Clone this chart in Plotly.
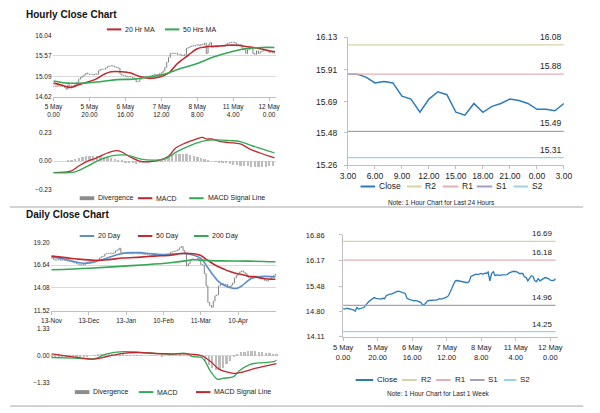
import plotly.graph_objects as go

# ---------------- DATA ----------------
# hourly close, 5 May 0:00 .. 12 May 3:00 (trading hours)
hourly_close = [
    14.87, 14.86, 14.88, 14.87, 14.86, 14.87, 14.84, 14.80,
    14.90, 14.86, 14.88, 14.88, 14.90,
    14.96, 15.03, 15.07, 15.10, 15.13,
    15.17, 15.15, 15.14,
    15.14, 15.13, 15.15, 15.14, 15.22,
    15.25, 15.26, 15.26,
    15.29, 15.32, 15.33, 15.34, 15.33, 15.31, 15.30,
    15.28, 15.15, 15.12,
    15.11, 15.10, 15.08, 15.09, 15.08, 15.06, 15.04,
    14.97, 14.98, 15.03,
    15.08, 15.09, 15.10, 15.09, 15.10, 15.10, 15.12, 15.14, 15.13,
    15.14, 15.16, 15.18, 15.22, 15.30,
    15.42, 15.53, 15.62,
    15.63, 15.62, 15.63, 15.60, 15.60, 15.58, 15.57,
    15.60, 15.74, 15.76, 15.78,
    15.80, 15.79, 15.81, 15.82, 15.80, 15.83, 15.82, 15.86,
    15.62, 15.82, 15.87,
    15.76, 15.78, 15.77, 15.77, 15.78, 15.78, 15.78, 15.79, 15.83, 15.86, 15.87,
    15.88, 15.88, 15.86, 15.82, 15.83, 15.82, 15.73, 15.71, 15.62, 15.71,
    15.76, 15.74, 15.62, 15.60, 15.68, 15.62, 15.66, 15.68, 15.71, 15.70,
    15.68, 15.64, 15.64, 15.63, 15.68,
]
hour_ticks = [0, 20, 40, 60, 80, 100, 120]
hour_ticktext = ["5 May<br>0.00", "5 May<br>20.00", "6 May<br>16.00", "7 May<br>12.00",
                 "8 May<br>8.00", "11 May<br>4.00", "12 May<br>0.00"]

ma20h_x = [0, 5, 9, 12, 17, 23, 28, 32, 38, 43, 48, 53, 59, 64, 69, 75, 80, 86, 91, 97, 102, 107, 113, 118, 123]
ma20h = [14.94, 14.89, 14.84, 14.87, 14.94, 15.02, 15.14, 15.20, 15.20, 15.17, 15.09, 15.05, 15.08,
         15.17, 15.39, 15.58, 15.73, 15.78, 15.79, 15.81, 15.81, 15.78, 15.75, 15.70, 15.66]
ma50h_x = [0, 8, 17, 26, 35, 44, 53, 62, 71, 80, 89, 98, 107, 116, 123]
ma50h = [14.99, 14.94, 14.94, 14.97, 15.02, 15.03, 15.08, 15.15, 15.28, 15.39, 15.54, 15.65, 15.73, 15.76, 15.76]
h_price_ticks = [14.62, 15.09, 15.57, 16.04]

macdh_x = [0, 10, 14, 19, 24, 30, 35, 38, 42, 48, 53, 59, 64, 68, 73, 79, 83, 85, 88, 93, 98, 104, 109, 115, 120, 123]
macdh = [-0.093, -0.079, -0.04, 0.0, 0.026, 0.066, 0.085, 0.074, 0.04, 0.0, -0.005, 0.008, 0.04, 0.106,
         0.145, 0.177, 0.193, 0.18, 0.18, 0.159, 0.151, 0.14, 0.10, 0.066, 0.04, 0.026]
sigh_x = [0, 12, 19, 26, 33, 41, 48, 55, 62, 69, 77, 84, 91, 98, 104, 109, 116, 123]
sigh = [-0.093, -0.087, -0.04, 0.013, 0.045, 0.048, 0.019, 0.008, 0.019, 0.079, 0.132, 0.164, 0.172,
        0.167, 0.159, 0.132, 0.10, 0.066]
divh_x = list(range(0, 124, 2))
divh = [0.0, 0.0, 0.0, 0.0, 0.005, 0.01, 0.02, 0.03, 0.035, 0.04, 0.042, 0.042, 0.04, 0.04, 0.038, 0.035,
        0.03, 0.022, 0.012, 0.004, -0.006, -0.012, -0.016, -0.018, -0.016, -0.012, -0.008, -0.004, 0.0,
        0.004, 0.01, 0.02, 0.035, 0.048, 0.056, 0.06, 0.06, 0.058, 0.052, 0.045, 0.035, 0.025, 0.015,
        0.006, 0.0, -0.003, -0.006, -0.01, -0.014, -0.02, -0.026, -0.03, -0.035, -0.04, -0.042, -0.044,
        -0.045, -0.045, -0.044, -0.043, -0.042, -0.04]
h_macd_ticks = [-0.23, 0.0, 0.23]

# last 24 hours
h24_ticktext = ["3.00", "6.00", "9.00", "12.00", "15.00", "18.00", "21.00", "0.00", "3.00"]
h24_levels = {"R2": 16.08, "R1": 15.88, "S1": 15.49, "S2": 15.31}
h24_ticks_y = [15.26, 15.48, 15.69, 15.91, 16.13]

# last week levels
w_levels = {"R2": 16.69, "R1": 16.18, "S1": 14.96, "S2": 14.25}
w_ticks_y = [14.11, 14.80, 15.48, 16.17, 16.86]

# daily close 13-Nov .. 12-May
daily_close = [
    17.45, 17.30, 17.20, 17.25, 17.30, 17.20,
    17.25, 17.20, 17.15, 17.10, 17.05,
    17.00, 16.95, 16.90, 16.80, 16.75, 16.70, 16.65,
    16.70, 16.90, 17.00, 17.05, 17.05, 17.10, 17.05, 17.15, 17.20,
    17.45, 17.60, 17.65,
    17.90, 17.95, 17.95, 18.00, 17.95, 18.05,
    18.25, 18.35, 18.55,
    18.05, 18.00, 18.05, 18.00, 17.95,
    17.95, 17.90, 17.95, 18.00, 17.95, 17.90, 17.95, 17.90, 17.85, 17.90,
    17.80, 17.75, 17.70, 17.75, 17.80, 17.75, 17.80,
    17.80, 17.75, 17.80, 17.85, 17.80, 17.90,
    18.10, 18.15, 18.20, 18.25, 18.40, 18.60, 18.75, 18.30,
    17.90, 16.55, 16.80,
    17.20, 17.35, 17.30, 17.25, 17.40, 17.10, 16.70,
    16.65, 15.70, 14.30,
    12.45, 12.10, 11.90, 12.60,
    13.20, 13.30, 14.30, 14.50,
    14.55, 14.40, 14.50, 14.30, 14.10,
    14.40, 14.65, 15.20, 15.50, 15.75,
    15.90, 16.00, 15.85, 15.70, 15.40,
    15.20, 15.30, 15.35, 15.25, 15.40,
    15.30, 15.20, 15.25, 15.10, 14.90,
    14.85, 15.00, 15.10, 15.35, 15.50, 15.65,
]
day_ticks = [0, 21, 42, 63, 84, 105]
day_ticktext = ["13-Nov", "13-Dec", "13-Jan", "10-Feb", "11-Mar", "10-Apr"]
ma20d_x = [0, 5, 10, 15, 20, 25, 30, 35, 40, 45, 50, 55, 60, 65, 70, 75, 80, 84, 88, 91, 94, 98, 101,
           104, 107, 110, 113, 117, 121, 126]
ma20d = [17.60, 17.40, 17.20, 16.95, 16.85, 17.05, 17.35, 17.70, 17.95, 18.05, 18.05, 17.95, 17.85,
         17.85, 17.90, 17.95, 17.75, 17.40, 16.35, 15.50, 14.80, 14.30, 14.10, 14.02, 14.30, 14.80,
         15.20, 15.35, 15.38, 15.33]
ma50d_x = [0, 13, 24, 32, 40, 50, 58, 67, 73, 80, 84, 87, 92, 97, 100, 104, 107, 111, 114, 119, 126]
ma50d = [17.66, 17.37, 17.19, 17.26, 17.44, 17.55, 17.66, 17.76, 17.95, 17.92, 17.74, 17.30, 16.66,
         16.20, 15.95, 15.70, 15.60, 15.40, 15.35, 15.15, 15.05]
ma200d_x = [0, 21, 43, 64, 72, 80, 85, 95, 110, 126]
ma200d = [16.12, 16.30, 16.56, 16.85, 17.04, 17.25, 17.20, 17.12, 17.10, 17.02]
d_price_ticks = [11.52, 14.08, 16.64, 19.20]

macdd_x = [0, 13, 24, 31, 40, 49, 58, 67, 75, 79, 84, 86, 89, 93, 96, 102, 105, 111, 116, 121, 125, 126]
macdd = [-0.10, -0.13, -0.16, 0.08, 0.19, 0.16, 0.11, 0.06, 0.11, -0.05, -0.10, -0.29, -0.77, -1.18,
         -1.13, -1.05, -0.77, -0.45, -0.37, -0.34, -0.29, -0.23]
sigd_x = [0, 13, 24, 31, 40, 49, 58, 67, 76, 84, 89, 94, 100, 103, 107, 114, 121, 126]
sigd = [0.08, -0.08, -0.18, -0.05, 0.11, 0.15, 0.10, 0.08, 0.08, 0.0, -0.29, -0.69, -0.85, -0.89,
        -0.82, -0.64, -0.50, -0.40]
divd_x = list(range(0, 127, 2))
divd = [-0.08, -0.08, -0.07, -0.06, -0.05, -0.05, -0.04, -0.04, -0.03, -0.02, -0.01, 0.0, 0.02, 0.05,
        0.08, 0.10, 0.10, 0.09, 0.08, 0.06, 0.05, 0.04, 0.03, 0.02, 0.01, 0.01, 0.0, 0.0, 0.01, 0.01,
        0.0, -0.01, 0.0, 0.02, 0.03, 0.04, 0.05, 0.04, 0.02, -0.03, -0.06, -0.08, -0.10, -0.25, -0.45,
        -0.62, -0.72, -0.70, -0.58, -0.42, -0.25, -0.05, 0.10, 0.17, 0.21, 0.23, 0.24, 0.23, 0.21,
        0.18, 0.15, 0.12, 0.10, 0.08]
d_macd_ticks = [-1.33, 0.0, 1.33]

# ---------------- STYLE ----------------
FONT = "Liberation Sans"
RED = "#C0282D"
GREEN = "#35A853"
BLUE_MA = "#5B8DC9"
CLOSE_BLUE = "#2B7BBA"
BAR_GREY = "#7F7F7F"
DIV_GREY = "#BDBDBD"
DIV_KEY = "#8C8C8C"
LEVEL_COLORS = {"R2": "#D6D3A3", "R1": "#E3AEB5", "S1": "#A99CC4", "S2": "#9DD3E0"}
GRID = "#D9D9D9"
AXIS = "#BFBFBF"
TXT = "#222222"


def ohlc_from_close(close):
    opens = [close[0]] + close[:-1]
    highs = [max(o, c) for o, c in zip(opens, close)]
    lows = [min(o, c) for o, c in zip(opens, close)]
    return opens, highs, lows


def px_x(a, b):
    return [a / 600, b / 600]


def px_y(top, bottom):
    return [1 - bottom / 413, 1 - top / 413]


fig = go.Figure()

# ---- hourly price (x, y) ----
ho, hh, hl = ohlc_from_close(hourly_close)
hx = list(range(len(hourly_close)))
fig.add_trace(go.Ohlc(x=hx, open=ho, high=hh, low=hl, close=hourly_close,
                      increasing_line_color=BAR_GREY, decreasing_line_color=BAR_GREY,
                      line_width=1, tickwidth=0.3, hoverinfo="skip", xaxis="x", yaxis="y"))
fig.add_trace(go.Scatter(x=ma20h_x, y=ma20h, mode="lines", line=dict(color=RED, width=1.6, shape="spline"),
                         name="20 Hr MA", xaxis="x", yaxis="y"))
fig.add_trace(go.Scatter(x=ma50h_x, y=ma50h, mode="lines", line=dict(color=GREEN, width=1.6, shape="spline"),
                         name="50 Hrs MA", xaxis="x", yaxis="y"))

# ---- hourly MACD (x2, y2) ----
fig.add_trace(go.Bar(x=divh_x, y=divh, width=1.0, marker=dict(color=DIV_GREY, line_width=0),
                     name="Divergence", xaxis="x2", yaxis="y2"))
fig.add_trace(go.Scatter(x=macdh_x, y=macdh, mode="lines", line=dict(color=RED, width=1.3, shape="spline"),
                         name="MACD", xaxis="x2", yaxis="y2"))
fig.add_trace(go.Scatter(x=sigh_x, y=sigh, mode="lines", line=dict(color=GREEN, width=1.3, shape="spline"),
                         name="MACD Signal Line", xaxis="x2", yaxis="y2"))

# ---- last 24 hours (x3, y3) ----
last24 = hourly_close[-25:]
x24 = list(range(len(last24)))
fig.add_trace(go.Scatter(x=x24, y=last24, mode="lines", line=dict(color=CLOSE_BLUE, width=1.5),
                         name="Close", xaxis="x3", yaxis="y3"))
for k, v in h24_levels.items():
    fig.add_trace(go.Scatter(x=x24, y=[v] * len(x24), mode="lines",
                             line=dict(color=LEVEL_COLORS[k], width=1.3),
                             name=k, xaxis="x3", yaxis="y3"))
    fig.add_annotation(x=x24[-1], y=v, xref="x3", yref="y3", text=f"{v:.2f}", showarrow=False,
                       xanchor="right", yanchor="bottom", yshift=1,
                       font=dict(family=FONT, size=8.5, color=TXT))

# ---- daily price (x4, y4) ----
do, dh, dl = ohlc_from_close(daily_close)
dx = list(range(len(daily_close)))
fig.add_trace(go.Ohlc(x=dx, open=do, high=dh, low=dl, close=daily_close,
                      increasing_line_color=BAR_GREY, decreasing_line_color=BAR_GREY,
                      line_width=1, tickwidth=0.3, hoverinfo="skip", xaxis="x4", yaxis="y4"))
fig.add_trace(go.Scatter(x=ma20d_x, y=ma20d, mode="lines", line=dict(color=BLUE_MA, width=1.6, shape="spline"),
                         name="20 Day", xaxis="x4", yaxis="y4"))
fig.add_trace(go.Scatter(x=ma50d_x, y=ma50d, mode="lines", line=dict(color=RED, width=1.6, shape="spline"),
                         name="50 Day", xaxis="x4", yaxis="y4"))
fig.add_trace(go.Scatter(x=ma200d_x, y=ma200d, mode="lines", line=dict(color=GREEN, width=1.6, shape="spline"),
                         name="200 Day", xaxis="x4", yaxis="y4"))

# ---- daily MACD (x5, y5) ----
fig.add_trace(go.Bar(x=divd_x, y=divd, width=1.0, marker=dict(color=DIV_GREY, line_width=0),
                     name="Divergence", xaxis="x5", yaxis="y5"))
fig.add_trace(go.Scatter(x=macdd_x, y=macdd, mode="lines", line=dict(color=GREEN, width=1.3, shape="spline"),
                         name="MACD", xaxis="x5", yaxis="y5"))
fig.add_trace(go.Scatter(x=sigd_x, y=sigd, mode="lines", line=dict(color=RED, width=1.3, shape="spline"),
                         name="MACD Signal Line", xaxis="x5", yaxis="y5"))

# ---- last week (x6, y6) ----
fig.add_trace(go.Scatter(x=hx, y=hourly_close, mode="lines", line=dict(color=CLOSE_BLUE, width=1.3),
                         name="Close", xaxis="x6", yaxis="y6"))
for k, v in w_levels.items():
    fig.add_trace(go.Scatter(x=hx, y=[v] * len(hx), mode="lines",
                             line=dict(color=LEVEL_COLORS[k], width=1.3),
                             name=k, xaxis="x6", yaxis="y6"))
    fig.add_annotation(x=hx[-1], y=v, xref="x6", yref="y6", text=f"{v:.2f}", showarrow=False,
                       xanchor="right", yanchor="bottom", yshift=1,
                       font=dict(family=FONT, size=8, color=TXT))

# ---------------- LAYOUT ----------------
small = dict(family=FONT, size=6.5, color=TXT)
rt_font = dict(family=FONT, size=8.5, color=TXT)
rb_font = dict(family=FONT, size=7.5, color=TXT)


def left_y(dom, ticks, anchor):
    return dict(domain=dom, anchor=anchor, range=[ticks[0], ticks[-1]], tickvals=ticks,
                tickformat=".2f", showgrid=True, gridcolor=GRID, gridwidth=1, zeroline=False,
                showline=False, ticks="", tickfont=small, fixedrange=True)


def right_y(dom, ticks, anchor, font, standoff):
    return dict(domain=dom, anchor=anchor, range=[ticks[0], ticks[-1]], tickvals=ticks,
                tickformat=".2f", showgrid=False, zeroline=False, showline=True, linecolor=AXIS,
                linewidth=1, ticks="outside", ticklen=3, tickcolor=AXIS, tickfont=font,
                ticklabelstandoff=standoff, fixedrange=True)


fig.update_layout(
    width=600, height=413, autosize=False,
    margin=dict(l=0, r=0, t=0, b=0),
    paper_bgcolor="white", plot_bgcolor="white",
    font=dict(family=FONT, color=TXT),
    showlegend=False, bargap=0, hovermode=False,
    xaxis=dict(domain=px_x(44, 275), anchor="y", range=[-0.5, 124], tickvals=hour_ticks,
               ticktext=hour_ticktext, showgrid=False, zeroline=False, showline=True,
               linecolor=AXIS, ticks="outside", ticklen=3, tickcolor=AXIS, tickfont=small,
               rangeslider=dict(visible=False), fixedrange=True),
    yaxis=left_y(px_y(31, 94.3), h_price_ticks, "x"),
    xaxis2=dict(domain=px_x(44, 275), anchor="y2", range=[-0.5, 124], showticklabels=False,
                showgrid=False, zeroline=False, showline=False, ticks="", fixedrange=True),
    yaxis2=left_y(px_y(131, 189), h_macd_ticks, "x2"),
    xaxis3=dict(domain=px_x(349, 572), anchor="y3", range=[0, 24], tickvals=list(range(0, 25, 3)),
                ticktext=h24_ticktext, showgrid=False, zeroline=False, showline=True,
                linecolor=AXIS, ticks="outside", ticklen=3, tickcolor=AXIS, tickfont=rt_font,
                fixedrange=True),
    yaxis3=right_y(px_y(33.3, 164), h24_ticks_y, "x3", rt_font, 5),
    xaxis4=dict(domain=px_x(42, 275), anchor="y4", range=[-0.5, 126.5], tickvals=day_ticks,
                ticktext=day_ticktext, showgrid=False, zeroline=False, showline=True,
                linecolor=AXIS, ticks="outside", ticklen=3, tickcolor=AXIS, tickfont=small,
                rangeslider=dict(visible=False), fixedrange=True),
    yaxis4=left_y(px_y(243.3, 313.3), d_price_ticks, "x4"),
    xaxis5=dict(domain=px_x(42, 277), anchor="y5", range=[-0.5, 127], showticklabels=False,
                showgrid=False, zeroline=False, showline=False, ticks="", fixedrange=True),
    yaxis5=left_y(px_y(331.7, 386.7), d_macd_ticks, "x5"),
    xaxis6=dict(domain=px_x(344, 566), anchor="y6", range=[0, 124.5], tickvals=hour_ticks,
                ticktext=hour_ticktext, showgrid=False, zeroline=False, showline=True,
                linecolor=AXIS, ticks="outside", ticklen=3, tickcolor=AXIS, tickfont=rb_font,
                fixedrange=True),
    yaxis6=right_y(px_y(235.7, 340), w_ticks_y, "x6", rb_font, 13),
)

# ---- legend keys (drawn as paper-space keys + labels) ----
legend_rows = [
    # (row y px, font size, [(kind, colour, key x0, key x1, label)])
    (25, 7, [("line", RED, 100, 115, "20 Hr MA"), ("line", GREEN, 160, 175, "50 Hrs MA")]),
    (198, 7, [("bar", DIV_KEY, 72, 87, "Divergence"), ("line", RED, 132, 147, "MACD"),
              ("line", GREEN, 185, 200, "MACD Signal Line")]),
    (186, 8.5, [("line", CLOSE_BLUE, 362, 377, "Close"), ("line", LEVEL_COLORS["R2"], 410, 425, "R2"),
                ("line", LEVEL_COLORS["R1"], 447, 463, "R1"), ("line", LEVEL_COLORS["S1"], 482, 498, "S1"),
                ("line", LEVEL_COLORS["S2"], 520, 535, "S2")]),
    (236.7, 7, [("line", BLUE_MA, 72, 87, "20 Day"), ("line", RED, 132, 147, "50 Day"),
                ("line", GREEN, 190, 205, "200 Day")]),
    (396.7, 7, [("bar", DIV_KEY, 67, 82, "Divergence"), ("line", GREEN, 133, 148, "MACD"),
                ("line", RED, 192, 207, "MACD Signal Line")]),
    (384.3, 8, [("line", CLOSE_BLUE, 357, 375, "Close"), ("line", LEVEL_COLORS["R2"], 405, 420, "R2"),
                ("line", LEVEL_COLORS["R1"], 440, 455, "R1"), ("line", LEVEL_COLORS["S1"], 475, 490, "S1"),
                ("line", LEVEL_COLORS["S2"], 510, 523, "S2")]),
]
for ypx, fsize, items in legend_rows:
    yp = 1 - ypx / 413
    for kind, col, a, b, label in items:
        if kind == "line":
            fig.add_shape(type="line", xref="paper", yref="paper", x0=a / 600, x1=b / 600, y0=yp, y1=yp,
                          line=dict(color=col, width=2))
        else:
            fig.add_shape(type="rect", xref="paper", yref="paper", x0=a / 600, x1=b / 600,
                          y0=yp - 2 / 413, y1=yp + 2 / 413, line=dict(width=0), fillcolor=col)
        fig.add_annotation(x=(b + 2) / 600, y=yp, xref="paper", yref="paper", text=label, showarrow=False,
                           xanchor="left", yanchor="middle", font=dict(family=FONT, size=fsize, color=TXT))

fig.add_annotation(x=14 / 600, y=1 - 10 / 413, xref="paper", yref="paper", text="<b>Hourly Close Chart</b>",
                   showarrow=False, xanchor="left", yanchor="middle",
                   font=dict(family=FONT, size=10, color="#111111"))
fig.add_annotation(x=14 / 600, y=1 - 215 / 413, xref="paper", yref="paper", text="<b>Daily Close Chart</b>",
                   showarrow=False, xanchor="left", yanchor="middle",
                   font=dict(family=FONT, size=10, color="#111111"))
fig.add_annotation(x=446 / 600, y=1 - 202 / 413, xref="paper", yref="paper",
                   text="Note: 1 Hour Chart for Last 24 Hours", showarrow=False,
                   xanchor="center", yanchor="middle", font=dict(family=FONT, size=6.5, color=TXT))
fig.add_annotation(x=443 / 600, y=1 - 398 / 413, xref="paper", yref="paper",
                   text="Note: 1 Hour Chart for Last 1 Week", showarrow=False,
                   xanchor="center", yanchor="middle", font=dict(family=FONT, size=6.5, color=TXT))

for ypx in (207, 411):
    fig.add_shape(type="line", xref="paper", yref="paper", x0=0, x1=592 / 600,
                  y0=1 - ypx / 413, y1=1 - ypx / 413, line=dict(color="#A6A6A6", width=1))

fig.write_html("out.html", config={"displayModeBar": False},
               post_script="document.body.style.margin='0';"
                           "document.documentElement.style.overflow='hidden';")
